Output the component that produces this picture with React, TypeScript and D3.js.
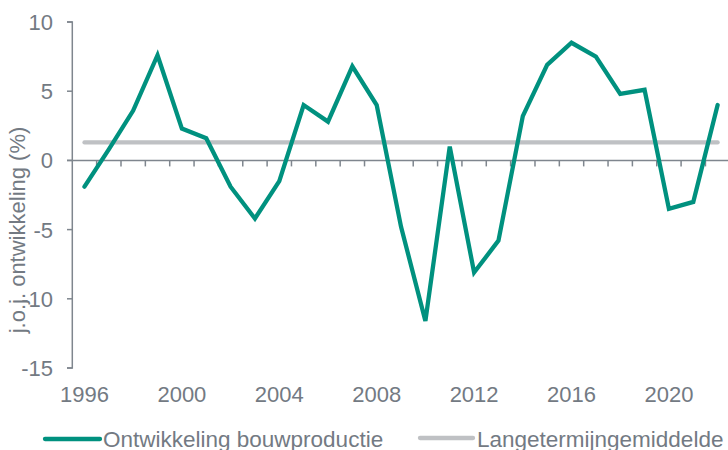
import React from "react";
import * as d3 from "d3";

const years = d3.range(1996, 2023);
const production = [
  -1.9, 0.8, 3.6, 7.6, 2.3, 1.6, -1.9, -4.2, -1.5, 4.0, 2.8, 6.8, 4.0, -4.8,
  -11.6, 1.0, -8.1, -5.8, 3.2, 6.9, 8.5, 7.5, 4.8, 5.1, -3.5, -3.0, 4.0,
];
const longTermMean = 1.3;
const yTicks = [10, 5, 0, -5, -10, -15];
const xLabels = [1996, 2000, 2004, 2008, 2012, 2016, 2020];
const seriesNames = ["Ontwikkeling bouwproductie", "Langetermijngemiddelde"];

const W = 728, H = 450;
const GREEN = "#00917f", GREY = "#bfc1c4", AXIS = "#7f868e", TEXT = "#737a83";
const FONT = "'Liberation Sans', Arial, sans-serif";

export default function App() {
  const x = d3.scaleBand<number>().domain(years).range([72.3, 729.8]).padding(0);
  const y = d3.scaleLinear().domain([-15, 10]).range([368, 22]);
  const cx = (yr: number) => (x(yr) as number) + x.bandwidth() / 2;

  const line = d3.line<number>().x((_, i) => cx(years[i])).y((d) => y(d));
  const meanLine = d3.line<number>().x((yr) => cx(yr)).y(() => y(longTermMean));
  const y0 = y(0);

  return (
    <svg width={W} height={H} style={{ position: "absolute", left: 0, top: 0 }} fontFamily={FONT}>
      {/* y axis */}
      <path d={`M67,${y(10)}H72.3V${y(-15)}H67`} fill="none" stroke={AXIS} strokeWidth={1.5} />
      {yTicks.map((t) => (
        <g key={t}>
          <line x1={67} x2={72.3} y1={y(t)} y2={y(t)} stroke={AXIS} strokeWidth={1.5} />
          <text x={53} y={y(t)} dy="0.36em" textAnchor="end" fontSize={22} fill={TEXT}>{t}</text>
        </g>
      ))}
      {/* x axis at zero */}
      <line x1={67} x2={728} y1={y0} y2={y0} stroke={AXIS} strokeWidth={1.5} />
      {years.slice(1).map((yr) => (
        <line key={yr} x1={x(yr)} x2={x(yr)} y1={y0} y2={y0 + 6} stroke={AXIS} strokeWidth={1.5} />
      ))}
      {xLabels.map((yr) => (
        <text key={yr} x={cx(yr)} y={402} textAnchor="middle" fontSize={22} fill={TEXT}>{yr}</text>
      ))}
      <text transform="translate(25,230) rotate(-90)" textAnchor="middle" fontSize={22} fill={TEXT}>
        j.o.j. ontwikkeling (%)
      </text>

      {/* series */}
      <path d={meanLine(years) || ""} fill="none" stroke={GREY} strokeWidth={4.3} strokeLinecap="round" />
      <path d={line(production) || ""} fill="none" stroke={GREEN} strokeWidth={4.3} strokeLinecap="round" />

      {/* legend */}
      <line x1={45} x2={100} y1={439} y2={439} stroke={GREEN} strokeWidth={4.3} strokeLinecap="round" />
      <text x={103} y={447} fontSize={22.5} fill={TEXT}>{seriesNames[0]}</text>
      <line x1={420} x2={473} y1={438} y2={438} stroke={GREY} strokeWidth={4.3} strokeLinecap="round" />
      <text x={477} y={447} fontSize={22.5} fill={TEXT}>{seriesNames[1]}</text>
    </svg>
  );
}
